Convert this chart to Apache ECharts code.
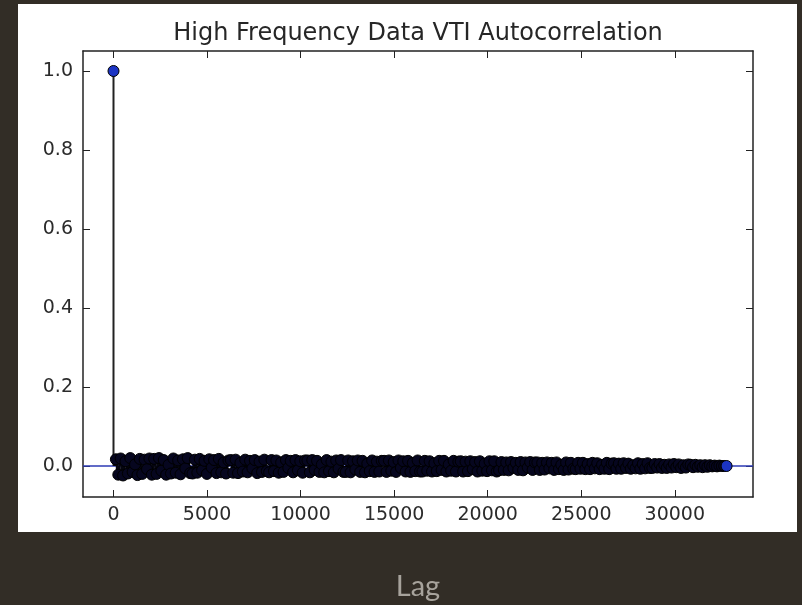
<!DOCTYPE html>
<html>
<head>
<meta charset="utf-8">
<script src="https://cdn.jsdelivr.net/npm/echarts@6/dist/echarts.min.js"></script>
<style>
  html, body { margin: 0; padding: 0; background: #322d26; }
  #chart { width: 802px; height: 605px; }
</style>
</head>
<body>
<div id="chart"></div>
<script>
// autocorrelation, every 128 lags (lag 0 first)
const lagStep = 128;
const acf = [
  1.0,
  0.017, -0.022, 0.019, -0.024, 0.012, -0.019, 0.020, -0.015, 0.004, -0.023, 0.018, -0.020, 0.016, -0.008, 0.019, -0.022,
  0.018, -0.020, 0.020, -0.012, 0.015, -0.022, 0.003, -0.019, 0.019, -0.017, 0.014, -0.021, 0.017, -0.006, 0.020, -0.018,
  -0.019, 0.016, -0.017, 0.018, -0.011, 0.013, -0.020, 0.017, -0.004, 0.015, -0.018, 0.018, -0.016, 0.009, -0.019, 0.014,
  0.015, -0.017, 0.016, -0.018, 0.008, -0.014, 0.016, -0.016, 0.013, -0.006, 0.015, -0.018, 0.011, -0.015, 0.016, -0.013,
  -0.016, 0.015, -0.013, 0.014, -0.017, 0.009, -0.015, 0.015, -0.005, 0.013, -0.016, 0.015, -0.011, 0.012, -0.017, 0.014,
  0.014, -0.016, 0.015, -0.010, 0.013, -0.015, 0.004, -0.016, 0.015, -0.013, 0.011, -0.016, 0.014, -0.007, 0.015, -0.015,
  -0.015, 0.014, -0.016, 0.012, -0.009, 0.014, -0.015, 0.013, -0.016, 0.006, -0.013, 0.014, -0.015, 0.011, -0.014, 0.013,
  0.013, -0.015, 0.014, -0.012, 0.010, -0.015, 0.014, -0.005, 0.012, -0.014, 0.013, -0.015, 0.008, -0.013, 0.014, -0.014,
  -0.014, 0.013, -0.012, 0.012, -0.014, 0.007, -0.013, 0.013, -0.010, 0.013, -0.014, 0.004, -0.012, 0.013, -0.014, 0.011,
  0.012, -0.014, 0.011, -0.013, 0.012, -0.008, 0.010, -0.014, 0.012, -0.012, 0.006, -0.013, 0.012, -0.011, 0.012, -0.014,
  -0.011, 0.010, -0.010, 0.009, -0.011, 0.010, -0.005, 0.008, -0.010, 0.010, -0.011, 0.009, -0.004, 0.010, -0.010, 0.009,
  0.009, -0.010, 0.008, -0.009, 0.009, -0.006, 0.008, -0.010, 0.009, -0.008, 0.003, -0.010, 0.009, -0.009, 0.008, -0.007,
  -0.008, 0.008, -0.007, 0.008, -0.008, 0.005, -0.008, 0.008, -0.006, 0.007, -0.008, 0.003, -0.007, 0.008, -0.008, 0.006,
  0.007, -0.007, 0.006, -0.007, 0.007, -0.005, 0.006, -0.007, 0.002, -0.006, 0.007, -0.007, 0.005, -0.006, 0.007, -0.005,
  -0.005, 0.005, -0.004, 0.005, -0.005, 0.003, -0.005, 0.004, -0.004, 0.005, -0.003, 0.004, -0.005, 0.002, -0.004, 0.004,
  0.003, -0.003, 0.003, -0.002, 0.002, -0.003, 0.002, -0.002, 0.002, -0.001, 0.001, -0.001, 0.001, 0.000, 0.000, 0.000
];
const xTicks = [0, 5000, 10000, 15000, 20000, 25000, 30000];
const yTicks = [0.0, 0.2, 0.4, 0.6, 0.8, 1.0];

const points = acf.map((v, i) => [i * lagStep, v]);
const lastIdx = points.length - 1;

const chart = echarts.init(document.getElementById('chart'), null, { renderer: 'canvas' });

const tickFont = { fontFamily: 'DejaVu Sans', fontSize: 19, color: '#2b2b2b' };
const frame = { show: true, onZero: false, lineStyle: { color: '#222', width: 1.5 } };

let option = {
  backgroundColor: '#322d26',
  animation: false,
  graphic: [{
    type: 'rect',
    z: -10,
    shape: { x: 18, y: 4, width: 779, height: 528 },
    style: { fill: '#ffffff' }
  }],
  title: {
    text: 'High Frequency Data VTI Autocorrelation',
    left: 413,
    top: 17,
    textAlign: 'center',
    textStyle: { fontFamily: 'DejaVu Sans', fontSize: 24, fontWeight: 'normal', color: '#262626' }
  },
  grid: { left: 83, right: 49, top: 51, bottom: 108, outerBoundsMode: 'none' },
  xAxis: [{
    type: 'value',
    min: -1630,
    max: 34180,
    name: 'Lag',
    nameLocation: 'middle',
    nameGap: 75,
    nameTextStyle: { fontFamily: 'Lato', fontSize: 29, color: '#a7a39c' },
    axisLine: frame,
    axisTick: { show: true, inside: true, length: 7, customValues: xTicks, lineStyle: { color: '#222', width: 1 } },
    axisLabel: Object.assign({ customValues: xTicks, margin: 9, formatter: (v) => String(v) }, tickFont),
    splitLine: { show: false }
  }, {
    type: 'value',
    position: 'top',
    min: -1630,
    max: 34180,
    axisLine: frame,
    axisTick: { show: true, inside: true, length: 7, customValues: xTicks, lineStyle: { color: '#222', width: 1 } },
    axisLabel: { show: false },
    splitLine: { show: false }
  }],
  yAxis: [{
    type: 'value',
    min: -0.0785,
    max: 1.0506,
    axisLine: frame,
    axisTick: { show: true, inside: true, length: 7, customValues: yTicks, lineStyle: { color: '#222', width: 1 } },
    axisLabel: Object.assign({
      customValues: yTicks,
      margin: 10,
      formatter: (v) => v.toFixed(1)
    }, tickFont),
    splitLine: { show: false }
  }, {
    type: 'value',
    position: 'right',
    min: -0.0785,
    max: 1.0506,
    axisLine: frame,
    axisTick: { show: true, inside: true, length: 7, customValues: yTicks, lineStyle: { color: '#222', width: 1 } },
    axisLabel: { show: false },
    splitLine: { show: false }
  }],
  series: [{
    // baseline at zero, under everything
    type: 'line',
    z: 1,
    data: [],
    markLine: {
      z: 1,
      silent: true,
      symbol: 'none',
      label: { show: false },
      lineStyle: { color: '#2c3ab4', width: 1.5, type: 'solid' },
      data: [{ yAxis: 0 }]
    }
  }, {
    // stems (the dense ones are drawn wide so they merge like the real 32k stems)
    type: 'custom',
    z: 3,
    data: points,
    renderItem: (params, api) => {
      const p0 = api.coord([api.value(0), 0]);
      const p1 = api.coord([api.value(0), api.value(1)]);
      return {
        type: 'line',
        shape: { x1: p0[0], y1: p0[1], x2: p1[0], y2: p1[1] },
        style: { stroke: params.dataIndex === 0 ? '#222' : '#05050f', lineWidth: params.dataIndex === 0 ? 2 : 5 }
      };
    }
  }, {
    // markers
    type: 'scatter',
    z: 4,
    data: points,
    symbolSize: 11,
    itemStyle: {
      color: (p) => (p.dataIndex === 0 || p.dataIndex === lastIdx) ? '#1c34c4' : '#06061f',
      borderColor: '#000',
      borderWidth: 1,
      opacity: 1
    }
  }]
};

chart.setOption(option);
</script>
</body>
</html>
